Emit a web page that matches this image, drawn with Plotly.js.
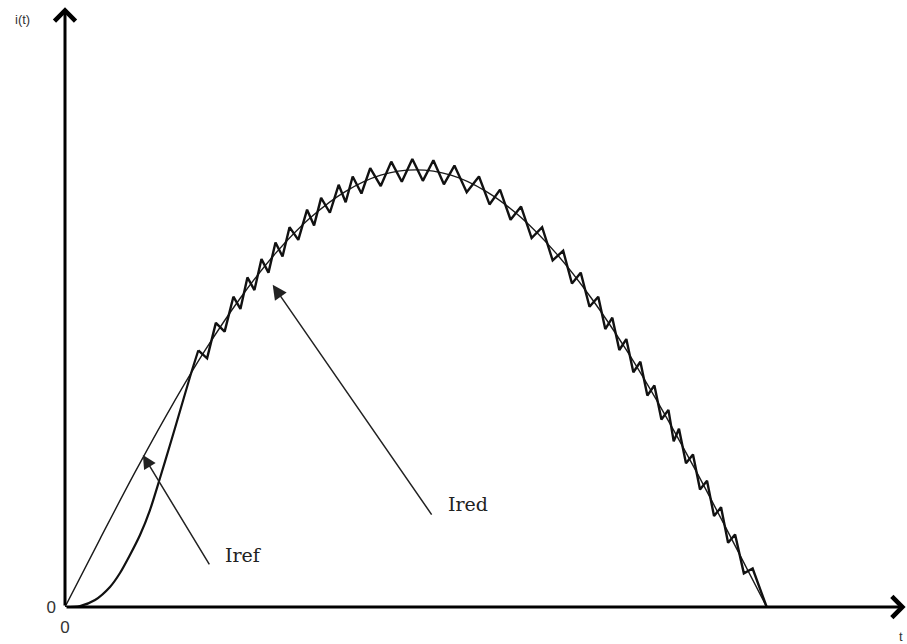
<!DOCTYPE html>
<html>
<head>
<meta charset="utf-8">
<script src="https://cdn.plot.ly/plotly-3.0.1.min.js"></script>
<style>html,body{margin:0;padding:0;background:#fff;}#chart{width:907px;height:644px;}</style>
</head>
<body>
<div id="chart"></div>
<script>
// Reference current (half sine), t in % of half period, i in % of peak
const tRef = [0,5,10,15,20,25,30,35,40,45,50,55,60,65,70,75,80,85,90,95,100];
const iRef = [0,15.6,30.9,45.4,58.8,70.7,80.9,89.1,95.1,98.8,100,98.8,95.1,89.1,80.9,70.7,58.8,45.4,30.9,15.6,0];

// Start-up of the real current (curved rise from zero)
const tStart = [0,2.14,4.28,6.41,7.84,9.26,10.69,12.11,13.54,14.96,16.39,17.81,19];
const iStart = [0,0.23,1.6,4.58,7.78,11.9,16.47,22.19,29.51,37.06,44.84,52.62,58.7];

// Hysteresis ripple of the real current: alternating peaks and valleys
const tRipple = [19,20.25,21.5,22.75,24,25,26,27,28,29,30,31,32,33.25,34.5,35.5,36.5,37.75,39,40,41,42.25,43.5,45,46.5,48,49.5,51,52.5,54,55.5,57.25,59,60.5,62,63.5,65,66.5,68,69.5,71,72.25,73.5,74.75,76,77,78,79,80,81,82,83,84,85,86,86.75,87.5,88.5,89.5,90.5,91.5,92.5,93.5,94.5,95.5,96.75,98,100];
const iRipple = [58.7,56.9,65.0,63.0,71.0,68.2,75.4,72.5,79.6,76.5,83.4,80.2,86.9,84.0,90.9,87.3,93.6,90.2,96.6,92.6,98.5,94.6,100.4,96.3,101.9,97.3,102.5,97.5,102.2,96.7,101.0,94.9,98.5,92.1,95.5,88.6,91.6,84.4,86.9,79.3,81.5,74.0,76.5,68.7,71.0,63.6,66.2,58.8,61.3,53.7,56.1,48.4,50.7,42.9,45.1,37.9,40.8,32.9,34.9,26.9,28.9,20.8,22.8,14.7,16.6,7.7,8.8,0];

const labels = {yName:'i(t)', xName:'t', ref:'Iref', red:'Ired', zero:'0'};

const traces = [
  {x:tRef, y:iRef, mode:'lines', line:{color:'#1a1a1a', width:1.4, shape:'spline'}, hoverinfo:'skip'},
  {x:tStart, y:iStart, mode:'lines', line:{color:'#111', width:2.2, shape:'spline', smoothing:0.8}, hoverinfo:'skip'},
  {x:tRipple, y:iRipple, mode:'lines', line:{color:'#111', width:2.4}, hoverinfo:'skip'}
];

const layout = {
  width:907, height:644,
  margin:{l:65, r:0, t:6, b:37},
  paper_bgcolor:'#fff', plot_bgcolor:'#fff',
  showlegend:false,
  xaxis:{range:[0,120], showgrid:false, zeroline:false, showline:false, ticks:'',
         tickvals:[0], ticktext:[labels.zero], ticklabelstandoff:8,
         tickfont:{family:'Liberation Sans, Arial, sans-serif', size:17, color:'#333'}},
  yaxis:{range:[0,137.5], showgrid:false, zeroline:false, showline:false, ticks:'',
         tickvals:[0], ticktext:[labels.zero], ticklabelstandoff:8,
         tickfont:{family:'Liberation Sans, Arial, sans-serif', size:17, color:'#333'}},
  annotations:[
    // axes with chevron arrowheads
    {x:119.8, y:0, ax:0, ay:0, xref:'x', yref:'y', axref:'x', ayref:'y', text:'', showarrow:true,
     arrowhead:4, arrowsize:1.35, arrowwidth:3, arrowcolor:'#000'},
    {x:0, y:137.2, ax:0, ay:0, xref:'x', yref:'y', axref:'x', ayref:'y', text:'', showarrow:true,
     arrowhead:4, arrowsize:1.35, arrowwidth:3, arrowcolor:'#000'},
    // pointer arrows
    {x:11.1, y:34.8, ax:20.7, ay:9.4, xref:'x', yref:'y', axref:'x', ayref:'y', text:'', showarrow:true,
     arrowhead:2, arrowsize:1.8, arrowwidth:1.5, arrowcolor:'#222'},
    {x:29.6, y:73.7, ax:52.4, ay:20.8, xref:'x', yref:'y', axref:'x', ayref:'y', text:'', showarrow:true,
     arrowhead:2, arrowsize:1.9, arrowwidth:1.5, arrowcolor:'#222'},
    // text labels
    {x:25.5, y:11.9, xref:'x', yref:'y', text:labels.ref, showarrow:false,
     font:{family:'DejaVu Serif, serif', size:19, color:'#222'}},
    {x:57.4, y:23.6, xref:'x', yref:'y', text:labels.red, showarrow:false,
     font:{family:'DejaVu Serif, serif', size:19, color:'#222'}},
    {x:-0.051, y:0.977, xref:'paper', yref:'paper', xanchor:'center', yanchor:'middle', text:labels.yName, showarrow:false,
     font:{family:'Liberation Sans, Arial, sans-serif', size:13, color:'#333'}},
    {x:0.993, y:-0.049, xref:'paper', yref:'paper', xanchor:'center', yanchor:'middle', text:labels.xName, showarrow:false,
     font:{family:'Liberation Sans, Arial, sans-serif', size:13, color:'#333'}}
  ]
};

Plotly.newPlot('chart', traces, layout, {staticPlot:true, displayModeBar:false});
</script>
</body>
</html>
